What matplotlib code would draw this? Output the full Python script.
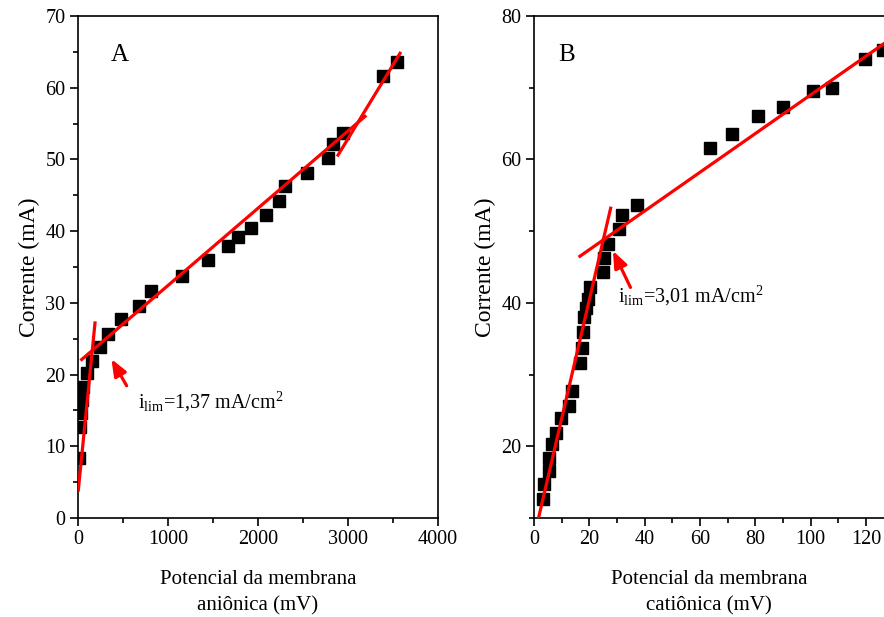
import numpy as np
import matplotlib
matplotlib.use('Agg')
import matplotlib.pyplot as plt
from matplotlib.ticker import MultipleLocator

plt.rcParams['font.family'] = ['Liberation Serif', 'DejaVu Serif']
plt.rcParams['mathtext.fontset'] = 'custom'
plt.rcParams['mathtext.rm'] = 'Liberation Serif'
plt.rcParams['mathtext.it'] = 'Liberation Serif:italic'

# --- painel A: membrana aniônica ---
pot_a = [14, 22, 30, 41, 52, 97, 159, 244, 330, 474, 678, 811, 1152, 1448,
         1667, 1778, 1922, 2089, 2233, 2300, 2544, 2778, 2833, 2944, 3389, 3544]
cor_a = [8.3, 12.7, 14.6, 16.5, 18.3, 20.2, 21.9, 23.9, 25.7, 27.7, 29.6, 31.6,
         33.75, 36.0, 37.9, 39.2, 40.4, 42.3, 44.2, 46.3, 48.1, 50.2, 52.2, 53.7,
         61.6, 63.6]
# retas de ajuste (pontos extremos)
fit_a1_x = [3.7, 189]
fit_a1_y = [3.9, 27.2]
fit_a2_x = [41, 3189]
fit_a2_y = [22.1, 56.0]
fit_a3_x = [2889, 3578]
fit_a3_y = [50.6, 64.8]

# --- painel B: membrana catiônica ---
pot_b = [3.4, 3.6, 5.5, 5.5, 6.6, 8.0, 9.6, 12.8, 13.8, 16.6, 17.3, 17.8, 18.1,
         18.7, 19.4, 20.2, 24.8, 25.3, 26.6, 30.7, 31.7, 37.1,
         63.6, 71.4, 80.8, 89.9, 100.9, 107.8, 119.6, 126.2]
cor_b = [12.7, 14.7, 16.5, 18.3, 20.3, 21.9, 24.0, 25.65, 27.7, 31.65, 33.65,
         36.0, 38.05, 39.3, 40.5, 42.2, 44.3, 46.3, 48.2, 50.25, 52.25, 53.6,
         61.6, 63.5, 66.0, 67.35, 69.5, 70.0, 74.0, 75.2]
fit_b1_x = [1.6, 27.7]
fit_b1_y = [9.95, 53.2]
fit_b2_x = [16.6, 130]
fit_b2_y = [46.5, 77.1]

fig = plt.figure(figsize=(8.84, 6.17), dpi=100)
ax1 = fig.add_axes([78/884, 1-518/617, (438-78)/884, (518-16)/617])
ax2 = fig.add_axes([534/884, 1-518/617, (884-534)/884, (518-16)/617])

red = '#ff0000'
fs_tick = 14.5
fs_label = 17


def style(ax):
    for s in ax.spines.values():
        s.set_linewidth(1.2)
    ax.tick_params(which='major', direction='out', length=5.5, width=1.2,
                   labelsize=fs_tick, top=False, right=False)
    ax.tick_params(which='minor', direction='out', length=3.5, width=1.2,
                   top=False, right=False)


# A
ax1.plot(pot_a, cor_a, 's', color='k', ms=9, zorder=3)
ax1.plot(fit_a1_x, fit_a1_y, color=red, lw=2.3, zorder=4)
ax1.plot(fit_a2_x, fit_a2_y, color=red, lw=2.3, zorder=4)
ax1.plot(fit_a3_x, fit_a3_y, color=red, lw=2.3, zorder=4)
ax1.set_xlim(0, 4000)
ax1.set_ylim(0, 70)
ax1.xaxis.set_major_locator(MultipleLocator(1000))
ax1.xaxis.set_minor_locator(MultipleLocator(500))
ax1.yaxis.set_major_locator(MultipleLocator(10))
ax1.yaxis.set_minor_locator(MultipleLocator(5))
style(ax1)
ax1.set_ylabel('Corrente (mA)', fontsize=fs_label)
ax1.set_xlabel('Potencial da membrana\naniônica (mV)', fontsize=15,
               labelpad=15, linespacing=1.5)
ax1.text(0.09, 0.945, 'A', transform=ax1.transAxes, fontsize=18, va='top')
ax1.annotate('', xy=(356, 22.5), xytext=(556, 18.1),
             arrowprops=dict(arrowstyle='-|>,head_length=1.0,head_width=0.4',
                             color=red, lw=2.3))
ax1.text(667, 16.2, r'i$_{\rm lim}$=1,37 mA/cm$^{2}$', fontsize=14.5, va='center')

# B
ax2.plot(pot_b, cor_b, 's', color='k', ms=9, zorder=3)
ax2.plot(fit_b1_x, fit_b1_y, color=red, lw=2.3, zorder=4)
ax2.plot(fit_b2_x, fit_b2_y, color=red, lw=2.3, zorder=4)
ax2.set_xlim(0, 126.5)
ax2.set_ylim(10, 80)
ax2.xaxis.set_major_locator(MultipleLocator(20))
ax2.xaxis.set_minor_locator(MultipleLocator(10))
ax2.yaxis.set_major_locator(MultipleLocator(20))
ax2.yaxis.set_minor_locator(MultipleLocator(10))
style(ax2)
ax2.spines['right'].set_visible(False)
ax2.set_ylabel('Corrente (mA)', fontsize=fs_label)
ax2.set_xlabel('Potencial da membrana\ncatiônica (mV)', fontsize=15,
               labelpad=15, linespacing=1.5)
ax2.text(0.07, 0.945, 'B', transform=ax2.transAxes, fontsize=18, va='top')
ax2.annotate('', xy=(28.1, 47.6), xytext=(35.3, 41.8),
             arrowprops=dict(arrowstyle='-|>,head_length=1.0,head_width=0.4',
                             color=red, lw=2.3))
ax2.text(30.5, 41.0, r'i$_{\rm lim}$=3,01 mA/cm$^{2}$', fontsize=14.5, va='center')

fig.savefig('out.png', dpi=100)
